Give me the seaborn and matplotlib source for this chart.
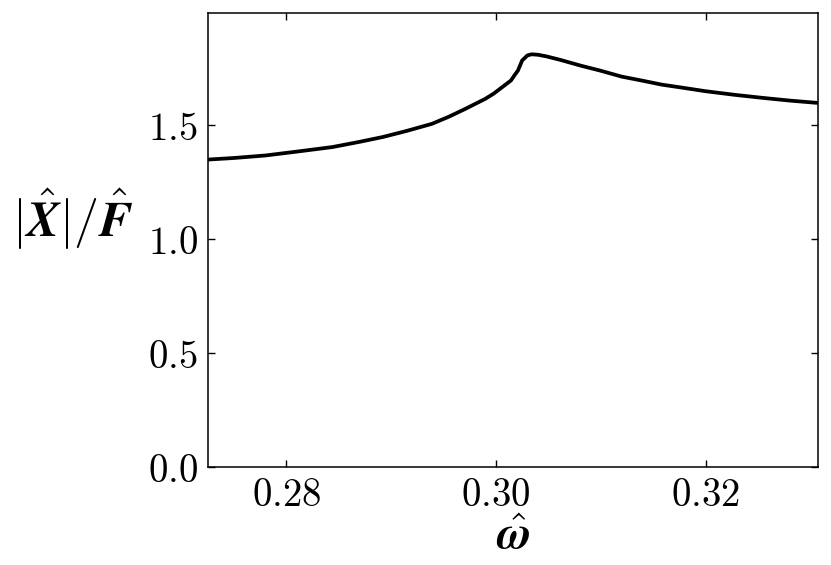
import numpy as np
import pandas as pd
import seaborn as sns
import matplotlib
matplotlib.use("Agg")
from matplotlib import pyplot as plt
from matplotlib.ticker import FuncFormatter

# frequency response
omega = [0.2725, 0.2750, 0.2780, 0.2810, 0.2844, 0.2870, 0.2892, 0.2915,
         0.2939, 0.2955, 0.2971, 0.2990, 0.2998, 0.3006, 0.30143, 0.3018,
         0.3021, 0.3025, 0.3030, 0.3034, 0.3040, 0.3048, 0.3061, 0.3081,
         0.3099, 0.3120, 0.3140, 0.3158, 0.3180, 0.3200, 0.3228, 0.3254,
         0.3280, 0.3306]
amp = [1.350, 1.357, 1.368, 1.385, 1.405, 1.428, 1.449, 1.476,
       1.507, 1.538, 1.573, 1.617, 1.640, 1.668, 1.697, 1.722,
       1.741, 1.785, 1.807, 1.812, 1.810, 1.803, 1.788, 1.762,
       1.741, 1.714, 1.696, 1.679, 1.664, 1.650, 1.634, 1.621,
       1.609, 1.599]

xticks = [0.28, 0.30, 0.32]
yticks = [0.0, 0.5, 1.0, 1.5]

sns.set_style("ticks", {'axes.edgecolor': 'black', 'text.color': 'black',
                        'axes.labelcolor': 'black', 'xtick.color': 'black',
                        'ytick.color': 'black'})
plt.rcParams['mathtext.fontset'] = 'cm'
plt.rcParams['font.family'] = ['DejaVu Serif']

df = pd.DataFrame({'omega': omega, 'amp': amp})

fig = plt.figure(figsize=(8.31, 5.65), dpi=100)
ax = fig.add_axes([0.250, 0.173, 0.734, 0.804])

sns.lineplot(data=df, x='omega', y='amp', color='black', linewidth=2.7, ax=ax, sort=True)

ax.set_xlim(0.2725, 0.3307)
ax.set_ylim(0, 1.1 * max(amp))
ax.set_xticks(xticks)
ax.set_yticks(yticks)
ax.xaxis.set_major_formatter(FuncFormatter(lambda v, p: f"${v:.2f}$"))
ax.yaxis.set_major_formatter(FuncFormatter(lambda v, p: f"${v:.1f}$"))
ax.tick_params(direction='in', top=True, right=True, length=5, width=1,
               labelsize=28, pad=7)
for s in ax.spines.values():
    s.set_linewidth(1.1)

ax.set_xlabel(r"$\hat{\boldsymbol{\omega}}$", fontsize=34, labelpad=0)
ax.set_ylabel(r"$|\hat{\boldsymbol{X}}|/\hat{\boldsymbol{F}}$", fontsize=36,
              rotation=0, labelpad=0, va='center', ha='center')
ax.yaxis.set_label_coords(-0.222, 0.545)

plt.savefig('out.png', dpi=100)
